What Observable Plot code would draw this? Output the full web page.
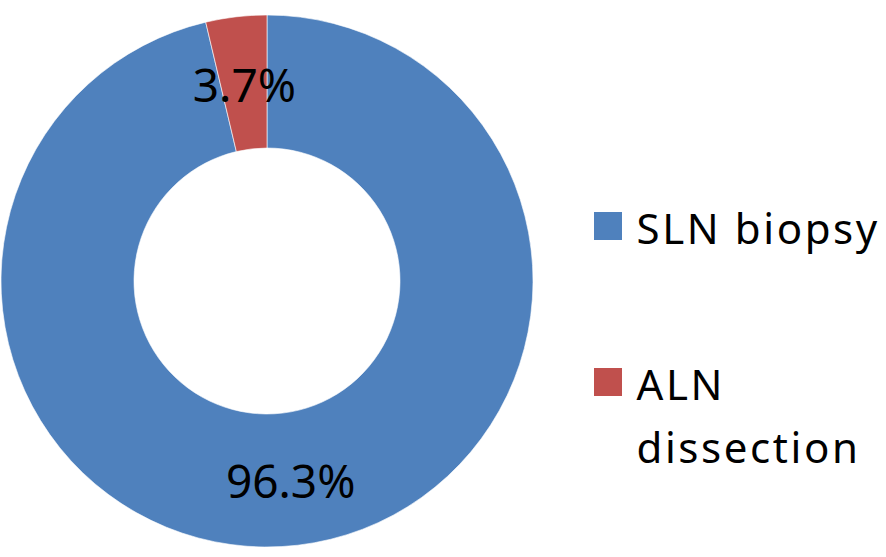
<!DOCTYPE html>
<html>
<head>
<meta charset="utf-8">
<script src="https://cdn.jsdelivr.net/npm/d3@7"></script>
<script src="https://cdn.jsdelivr.net/npm/@observablehq/plot@0.6"></script>
<style>
  html, body { margin: 0; padding: 0; background: #fff; }
  #chart svg { display: block; }
</style>
</head>
<body>
<div id="chart"></div>
<script>
// Data
const categories = ["SLN biopsy", "ALN dissection"];
const values = [96.3, 3.7];
const valueLabels = ["96.3%", "3.7%"];
const legendLabels = ["SLN biopsy", "ALN\ndissection"];
const colors = ["#4F81BD", "#C0504D"];

// Layout
const W = 886, H = 557;
const cx = 267, cy = 281, outerR = 266, innerR = 133;
const legendX = 594, legendY0 = 212, legendStep = 156, sq = 28;

const rows = categories.map((c, i) => ({category: c, value: values[i], label: valueLabels[i], legend: legendLabels[i], i}));
const pie = d3.pie().sort(null).value(d => d.value).startAngle(0).endAngle(2 * Math.PI);
const arcs = pie(rows);
const arcGen = d3.arc().innerRadius(innerR).outerRadius(outerR);
const colorScale = Plot.scale({color: {type: "ordinal", domain: categories, range: colors}});

function donut(index, scales, values, dims, context) {
  const g = d3.create("svg:g").attr("transform", `translate(${cx},${cy})`);
  g.selectAll("path").data(arcs).join("path")
    .attr("d", arcGen)
    .attr("fill", d => colorScale.apply(d.data.category))
    .attr("stroke", "#ffffff")
    .attr("stroke-width", 0.6);
  return g.node();
}

const chart = Plot.plot({
  width: W,
  height: H,
  margin: 0,
  x: {type: "identity", axis: null},
  y: {type: "identity", axis: null},
  color: {type: "ordinal", domain: categories, range: colors},
  style: {fontFamily: "'Noto Sans', sans-serif", background: "#fff"},
  marks: [
    donut,
    Plot.text(arcs, {
      x: d => cx + arcGen.centroid(d)[0],
      y: d => cy + arcGen.centroid(d)[1] + 4,
      text: d => d.data.label,
      fontSize: 46,
      fill: "#000",
      textAnchor: "middle",
      lineAnchor: "middle"
    }),
    Plot.rect(rows, {
      x1: () => legendX,
      x2: () => legendX + sq,
      y1: d => legendY0 + d.i * legendStep,
      y2: d => legendY0 + d.i * legendStep + sq,
      fill: "category"
    }),
    Plot.text(rows, {
      x: () => legendX + 42,
      y: d => legendY0 - 13 + d.i * legendStep,
      text: "legend",
      fontSize: 42,
      lineHeight: 1.5,
      fill: "#000",
      textAnchor: "start",
      lineAnchor: "top"
    })
  ]
});
d3.select(chart).selectAll("g[aria-label='text']").filter((d, i) => i === 1)
  .attr("letter-spacing", "2.6px");
document.getElementById("chart").appendChild(chart);
</script>
</body>
</html>
